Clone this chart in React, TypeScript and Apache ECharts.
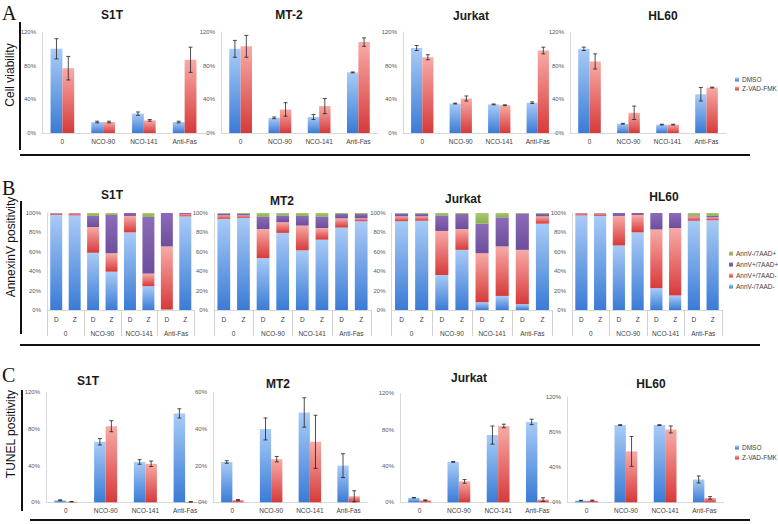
import React, { useEffect, useRef } from "react";
import * as echarts from "echarts";

// ---------- data ----------
const categories = ["0", "NCO-90", "NCO-141", "Anti-Fas"];
const bInner = ["D", "Z", "D", "Z", "D", "Z", "D", "Z"];
const cellLines = ["S1T", "MT-2", "Jurkat", "HL60"];
const cellLinesBC = ["S1T", "MT2", "Jurkat", "HL60"];
const barNames = ["DMSO", "Z-VAD-FMK"];
const stackNames = ["AnnV-/7AAD-", "AnnV+/7AAD-", "AnnV+/7AAD+", "AnnV-/7AAD+"];

// Panel A: cell viability (%)
const aS1tDmso = [100, 13, 23, 13];
const aS1tDmsoErr = [12, 1, 2, 1];
const aS1tZvad = [77, 13, 15, 87];
const aS1tZvadErr = [14, 1, 1, 15];
const aMt2Dmso = [100, 18, 19, 72];
const aMt2DmsoErr = [10, 1, 3, 0.5];
const aMt2Zvad = [103, 28, 32, 108];
const aMt2ZvadErr = [13, 8, 9, 5];
const aJurDmso = [101, 35, 34, 36];
const aJurDmsoErr = [3, 0.5, 0.5, 1];
const aJurZvad = [90, 41, 33, 98];
const aJurZvadErr = [3, 3, 0.5, 4];
const aHl6Dmso = [100, 11, 10, 46];
const aHl6DmsoErr = [2, 0.5, 0.5, 8];
const aHl6Zvad = [85, 24, 10, 54];
const aHl6ZvadErr = [9, 8, 0.5, 0.5];

// Panel B: AnnexinV positivity (%), stacked: AnnV-/7AAD-, AnnV+/7AAD-, AnnV+/7AAD+, AnnV-/7AAD+
const bS1tNN = [98, 97.5, 59, 39.5, 80, 24.5, 0.5, 96.5];
const bS1tPN = [1.5, 2, 26.5, 19, 17, 13, 65, 2.5];
const bS1tPP = [0.5, 0.5, 11.5, 39.5, 3, 58.5, 34.5, 1];
const bS1tNP = [0, 0, 3, 2, 0, 4, 0, 0];
const bMt2NN = [94, 95, 53.5, 79.5, 61.5, 72.5, 85, 91.5];
const bMt2PN = [3.5, 2.5, 30, 11, 25.5, 12, 9.5, 3];
const bMt2PP = [2, 1.5, 12.5, 7, 10, 12, 4.5, 4.5];
const bMt2NP = [0.5, 1, 4, 2.5, 3, 3.5, 1, 1];
const bJurNN = [91.5, 92, 36, 62, 8, 14.5, 6, 89];
const bJurPN = [5, 4.5, 45.5, 21.5, 50.5, 51, 56, 7.5];
const bJurPP = [3, 2.5, 16, 15.5, 30.5, 30, 37.5, 3];
const bJurNP = [0.5, 1, 2.5, 1, 11, 4.5, 0.5, 0.5];
const bHl6NN = [97.5, 97, 66.5, 80, 22.5, 15, 92, 92.5];
const bHl6PN = [2, 2.5, 30.5, 18, 60.5, 69.5, 4.5, 3];
const bHl6PP = [0.5, 0.5, 3, 2, 17, 15.5, 1, 1.5];
const bHl6NP = [0, 0, 0, 0, 0, 0, 2.5, 3];

// Panel C: TUNEL positivity (%)
const cS1tDmso = [2.2, 66, 44, 97];
const cS1tDmsoErr = [0.5, 3.5, 2.5, 5];
const cS1tZvad = [0.7, 83, 42, 0.5];
const cS1tZvadErr = [0.2, 6, 3, 0.2];
const cMt2Dmso = [22, 40, 49, 20];
const cMt2DmsoErr = [0.7, 6, 8, 6.5];
const cMt2Zvad = [1.2, 23.5, 33, 3.3];
const cMt2ZvadErr = [0.3, 1.5, 14.5, 3];
const cJurDmso = [5, 44.5, 74, 88.5];
const cJurDmsoErr = [0.3, 0.5, 10, 3];
const cJurZvad = [2.2, 23, 84, 3];
const cJurZvadErr = [0.5, 2, 2, 2];
const cHl6Dmso = [2, 88, 88, 26];
const cHl6DmsoErr = [0.3, 0.5, 0.5, 4];
const cHl6Zvad = [2, 58, 83, 5];
const cHl6ZvadErr = [0.5, 17, 4, 1.5];

const aMax = [120, 120, 120, 120];
const aInterval = [40, 40, 40, 40];
const cMax = [120, 60, 120, 120];
const cInterval = [40, 20, 40, 40];

// ---------- layout ----------
const gridsA = [
  { left: 42, top: 32, width: 163, height: 101 },
  { left: 221, top: 32, width: 157, height: 101 },
  { left: 403, top: 32, width: 154, height: 101 },
  { left: 570, top: 32, width: 156, height: 101 },
];
const gridsB = [
  { left: 47, top: 213, width: 147.5, height: 97 },
  { left: 214, top: 213, width: 157, height: 97 },
  { left: 391.5, top: 213, width: 161, height: 97 },
  { left: 572, top: 213, width: 150, height: 97 },
];
const gridsC = [
  { left: 46, top: 392.3, width: 159, height: 110 },
  { left: 213, top: 392.3, width: 155, height: 110 },
  { left: 400, top: 393.3, width: 157, height: 109 },
  { left: 567, top: 397, width: 157, height: 105.3 },
];
const titlePosA = [[112, 15], [289, 15], [471, 16], [663, 16]];
const titlePosB = [[112, 195], [282, 201], [463, 199], [664, 197]];
const titlePosC = [[88, 381], [278, 384], [469, 378], [651, 384]];

const FONT = "Liberation Sans";

const grad = (top: string, bottom: string) =>
  new echarts.graphic.LinearGradient(0, 0, 0, 1, [
    { offset: 0, color: top },
    { offset: 1, color: bottom },
  ]);
const BLUE = () => grad("#a9cbf7", "#3a7bd5");
const RED = () => grad("#f8aba7", "#d63a3a");
const PURPLE = () => grad("#8c6cb8", "#6d4e9c");
const GREEN = () => grad("#a9c873", "#8cae50");

const BAR_W = 0.29;

function yAxisCfg(gi: number, max: number, interval: number) {
  return {
    type: "value",
    gridIndex: gi,
    min: 0,
    max,
    interval,
    axisLine: { show: true, lineStyle: { color: "#d9d9d9", width: 1 } },
    axisTick: { show: false },
    splitLine: { show: false },
    axisLabel: { formatter: "{value}%", fontSize: 6, color: "#595959", margin: 6, fontFamily: FONT },
  };
}

function errSeries(xi: number, yi: number, vals: number[], errs: number[], sign: number) {
  return {
    type: "custom",
    xAxisIndex: xi,
    yAxisIndex: yi,
    silent: true,
    z: 10,
    encode: { x: 0, y: 1 },
    data: vals.map((v, i) => [i, v, errs[i], sign]),
    renderItem: (params: any, api: any) => {
      const i = api.value(0);
      const v = api.value(1);
      const e = api.value(2);
      const s = api.value(3);
      const c = api.coord([i, v]);
      const w = api.size([1, 0])[0];
      const x = c[0] + (s * w * BAR_W) / 2;
      const top = api.coord([i, v + e])[1];
      const bot = api.coord([i, Math.max(0, v - e)])[1];
      const st = { stroke: "#222", lineWidth: 0.8 };
      return {
        type: "group",
        children: [
          { type: "line", shape: { x1: x, y1: top, x2: x, y2: bot }, style: st },
          { type: "line", shape: { x1: x - 2, y1: top, x2: x + 2, y2: top }, style: st },
          { type: "line", shape: { x1: x - 2, y1: bot, x2: x + 2, y2: bot }, style: st },
        ],
      };
    },
  };
}

export default function App() {
  const ref = useRef<HTMLDivElement>(null);
  useEffect(() => {
    if (!ref.current) return;
    const chart = echarts.init(ref.current, null, { renderer: "svg" });

    const grid: any[] = [];
    const xAxis: any[] = [];
    const yAxis: any[] = [];
    const series: any[] = [];

    const addBarPanel = (
      g: any,
      max: number,
      interval: number,
      dmso: number[],
      dmsoErr: number[],
      zvad: number[],
      zvadErr: number[]
    ) => {
      const gi = grid.length;
      grid.push(g);
      const xi = xAxis.length;
      xAxis.push({
        type: "category",
        gridIndex: gi,
        data: categories,
        axisLine: { show: true, lineStyle: { color: "#d9d9d9" } },
        axisTick: { show: false },
        axisLabel: { fontSize: 6.5, color: "#404040", margin: 5, fontFamily: FONT, interval: 0 },
      });
      const yi = yAxis.length;
      yAxis.push(yAxisCfg(gi, max, interval));
      series.push({
        type: "bar",
        name: barNames[0],
        xAxisIndex: xi,
        yAxisIndex: yi,
        data: dmso,
        barWidth: BAR_W * 100 + "%",
        barGap: "0%",
        itemStyle: { color: BLUE() },
      });
      series.push({
        type: "bar",
        name: barNames[1],
        xAxisIndex: xi,
        yAxisIndex: yi,
        data: zvad,
        barWidth: BAR_W * 100 + "%",
        barGap: "0%",
        itemStyle: { color: RED() },
      });
      series.push(errSeries(xi, yi, dmso, dmsoErr, -1));
      series.push(errSeries(xi, yi, zvad, zvadErr, 1));
    };

    const addStackPanel = (g: any, stacks: number[][]) => {
      const gi = grid.length;
      grid.push(g);
      const xi = xAxis.length;
      xAxis.push({
        type: "category",
        gridIndex: gi,
        data: bInner,
        axisLine: { show: true, lineStyle: { color: "#d9d9d9" } },
        axisTick: { show: false },
        axisLabel: { fontSize: 6.5, color: "#404040", margin: 6, fontFamily: FONT, interval: 0 },
      });
      xAxis.push({
        type: "category",
        gridIndex: gi,
        position: "bottom",
        data: categories,
        axisLine: { show: false },
        axisTick: { show: true, length: 26, lineStyle: { color: "#d0d0d0" } },
        axisLabel: { fontSize: 6.5, color: "#404040", margin: 20, fontFamily: FONT, interval: 0 },
      });
      const yi = yAxis.length;
      yAxis.push(yAxisCfg(gi, 100, 20));
      const colors = [BLUE, RED, PURPLE, GREEN];
      stacks.forEach((d, k) => {
        series.push({
          type: "bar",
          name: stackNames[k],
          stack: "s" + gi,
          xAxisIndex: xi,
          yAxisIndex: yi,
          data: d,
          barCategoryGap: "35%",
          itemStyle: { color: colors[k]() },
        });
      });
    };

    addBarPanel(gridsA[0], aMax[0], aInterval[0], aS1tDmso, aS1tDmsoErr, aS1tZvad, aS1tZvadErr);
    addBarPanel(gridsA[1], aMax[1], aInterval[1], aMt2Dmso, aMt2DmsoErr, aMt2Zvad, aMt2ZvadErr);
    addBarPanel(gridsA[2], aMax[2], aInterval[2], aJurDmso, aJurDmsoErr, aJurZvad, aJurZvadErr);
    addBarPanel(gridsA[3], aMax[3], aInterval[3], aHl6Dmso, aHl6DmsoErr, aHl6Zvad, aHl6ZvadErr);

    addStackPanel(gridsB[0], [bS1tNN, bS1tPN, bS1tPP, bS1tNP]);
    addStackPanel(gridsB[1], [bMt2NN, bMt2PN, bMt2PP, bMt2NP]);
    addStackPanel(gridsB[2], [bJurNN, bJurPN, bJurPP, bJurNP]);
    addStackPanel(gridsB[3], [bHl6NN, bHl6PN, bHl6PP, bHl6NP]);

    addBarPanel(gridsC[0], cMax[0], cInterval[0], cS1tDmso, cS1tDmsoErr, cS1tZvad, cS1tZvadErr);
    addBarPanel(gridsC[1], cMax[1], cInterval[1], cMt2Dmso, cMt2DmsoErr, cMt2Zvad, cMt2ZvadErr);
    addBarPanel(gridsC[2], cMax[2], cInterval[2], cJurDmso, cJurDmsoErr, cJurZvad, cJurZvadErr);
    addBarPanel(gridsC[3], cMax[3], cInterval[3], cHl6Dmso, cHl6DmsoErr, cHl6Zvad, cHl6ZvadErr);

    const titleStyle = (t: string, x: number, y: number) => ({
      type: "text",
      x,
      y,
      style: {
        text: t,
        fontSize: 12,
        fontWeight: "bold",
        fontFamily: FONT,
        fill: "#1a1a1a",
        align: "center",
        verticalAlign: "middle",
      },
    });
    const letter = (t: string, x: number, y: number) => ({
      type: "text",
      x,
      y,
      style: { text: t, fontSize: 20, fontFamily: "Liberation Serif", fill: "#111", align: "left", verticalAlign: "middle" },
    });
    const yName = (t: string, x: number, y: number) => ({
      type: "text",
      x,
      y,
      rotation: Math.PI / 2,
      style: { text: t, fontSize: 12, fontFamily: FONT, fill: "#111", align: "center", verticalAlign: "middle" },
    });
    const rule = (x1: number, y1: number, x2: number, y2: number) => ({
      type: "line",
      shape: { x1, y1, x2, y2 },
      style: { stroke: "#111", lineWidth: 2 },
    });

    const graphic: any[] = [
      letter("A", 2, 13),
      letter("B", 2, 188),
      letter("C", 2, 375),
      yName("Cell viability", 10, 75),
      yName("AnnexinV positivity", 11, 247),
      yName("TUNEL positivity", 11, 434),
      rule(20, 22, 20, 150),
      rule(20, 155, 750, 155),
      rule(21, 201, 21, 334),
      rule(20, 345, 760, 345),
      rule(22, 390, 22, 511),
      rule(30, 520, 750, 520),
      ...cellLines.map((t, i) => titleStyle(t, titlePosA[i][0], titlePosA[i][1])),
      ...cellLinesBC.map((t, i) => titleStyle(t, titlePosB[i][0], titlePosB[i][1])),
      ...cellLinesBC.map((t, i) => titleStyle(t, titlePosC[i][0], titlePosC[i][1])),
    ];

    const legendBase = {
      orient: "vertical",
      icon: "rect",
      itemWidth: 4,
      itemHeight: 4,
      padding: 0,
      selectedMode: false,
      textStyle: { fontSize: 6.5, color: "#404040", fontFamily: FONT, padding: [0, 0, 0, -2] },
    };

    chart.setOption({
      animation: false,
      backgroundColor: "#ffffff",
      grid,
      xAxis,
      yAxis,
      series,
      graphic,
      legend: [
        { ...legendBase, data: barNames, left: 735, top: 76, itemGap: 2 },
        { ...legendBase, data: [...stackNames].reverse(), left: 729, top: 250, itemGap: 4 },
        { ...legendBase, data: barNames, left: 735, top: 444, itemGap: 3 },
      ],
    });
    return () => chart.dispose();
  }, []);
  return (
    <div
      ref={ref}
      style={{ position: "fixed", left: 0, top: 0, width: 778, height: 524, background: "#fff" }}
    />
  );
}
